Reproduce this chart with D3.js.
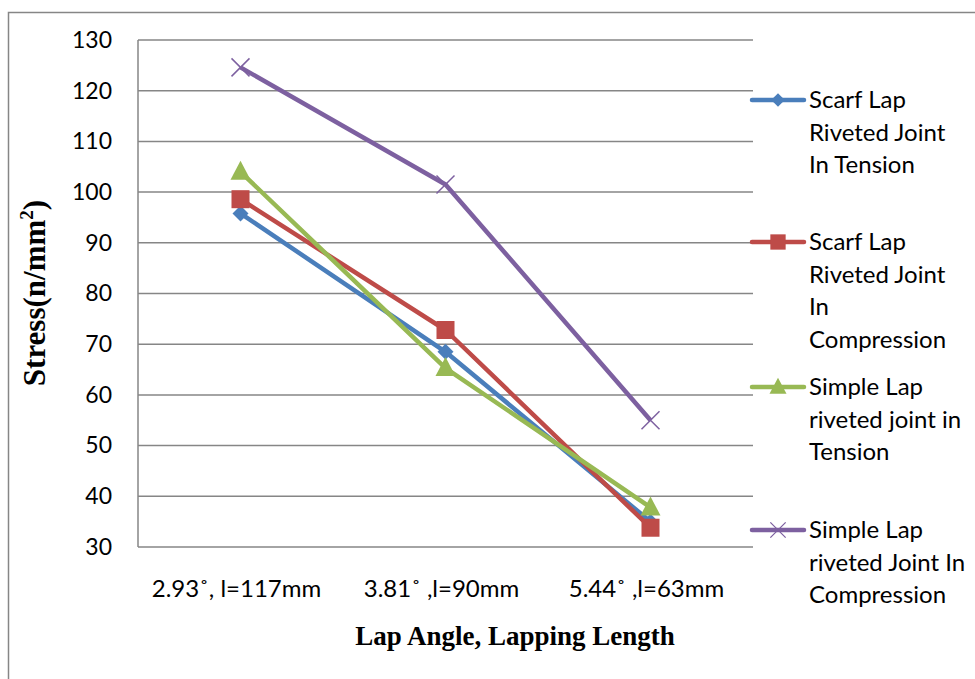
<!DOCTYPE html>
<html>
<head>
<meta charset="utf-8">
<script src="https://cdn.jsdelivr.net/npm/d3@7"></script>
<style>
  body { margin: 0; background: white; }
</style>
</head>
<body>
<script>
const w = 975;
const h = 679;

// chart values
const categories = ["2.93˚, l=117mm", "3.81˚ ,l=90mm", "5.44˚ ,l=63mm"];
const scarfTension = [95.8, 68.5, 35];
const scarfCompression = [98.6, 72.8, 33.8];
const simpleTension = [104, 65.3, 37.8];
const simpleCompression = [124.6, 101.5, 55];
const yTicks = [30, 40, 50, 60, 70, 80, 90, 100, 110, 120, 130];

const seriesNames = [
  ["Scarf Lap", "Riveted Joint", "In Tension"],
  ["Scarf Lap", "Riveted Joint", "In", "Compression"],
  ["Simple Lap", "riveted joint in", "Tension"],
  ["Simple Lap", "riveted Joint In", "Compression"]
];
const colors = ["#4a7ebb", "#be4b48", "#98b954", "#7d60a0"];
const symbols = ["diamond", "square", "triangle", "x"];

const series = [scarfTension, scarfCompression, simpleTension, simpleCompression];

const plotLeft = 138, plotRight = 753, plotTop = 40, plotBottom = 547;
const font = "Lato, 'Open Sans', sans-serif";

const svg = d3.select("body")
  .append("svg")
  .attr("width", w)
  .attr("height", h);

// outer chart frame
svg.append("path")
  .attr("d", "M8.5," + h + "V12.5H" + w)
  .attr("fill", "none")
  .attr("stroke", "#868686")
  .attr("stroke-width", 1.5);

const xScale = d3.scaleBand()
  .domain(categories)
  .range([plotLeft, plotRight]);

const yScale = d3.scaleLinear()
  .domain([30, 130])
  .range([plotBottom, plotTop]);

// gridlines
svg.append("g")
  .selectAll("line")
  .data(yTicks)
  .enter()
  .append("line")
  .attr("x1", plotLeft)
  .attr("x2", plotRight)
  .attr("y1", (d) => yScale(d))
  .attr("y2", (d) => yScale(d))
  .attr("stroke", "#868686")
  .attr("stroke-width", 1.5);

svg.append("line")
  .attr("x1", plotLeft).attr("x2", plotLeft)
  .attr("y1", plotTop).attr("y2", plotBottom)
  .attr("stroke", "#868686")
  .attr("stroke-width", 1.5);

const yAxis = d3.axisLeft(yScale).tickValues(yTicks).tickSize(0).tickPadding(26);
svg.append("g")
  .attr("transform", "translate(" + plotLeft + ",0)")
  .call(yAxis)
  .call((g) => g.select(".domain").remove())
  .selectAll("text")
  .attr("font-family", font)
  .attr("font-size", "23px")
  .attr("fill", "#000");

const xAxis = d3.axisBottom(xScale).tickSize(0).tickPadding(33);
svg.append("g")
  .attr("transform", "translate(0," + plotBottom + ")")
  .call(xAxis)
  .call((g) => g.select(".domain").remove())
  .selectAll("text")
  .attr("font-family", font)
  .attr("font-size", "24px")
  .attr("dx", "-4")
  .attr("fill", "#000");

// axis titles
svg.append("text")
  .attr("x", 515)
  .attr("y", 645)
  .attr("text-anchor", "middle")
  .attr("font-family", "'Liberation Serif', 'DejaVu Serif', serif")
  .attr("font-weight", "bold")
  .attr("font-size", "27px")
  .text("Lap Angle, Lapping Length");

const yTitle = svg.append("text")
  .attr("transform", "translate(45,293) rotate(-90)")
  .attr("text-anchor", "middle")
  .attr("font-family", "'Liberation Serif', 'DejaVu Serif', serif")
  .attr("font-weight", "bold")
  .attr("font-size", "31px");
yTitle.append("tspan").text("Stress(n/mm");
yTitle.append("tspan").attr("font-size", "19px").attr("dy", "-12").text("2");
yTitle.append("tspan").attr("dy", "12").text(")");

const cx = (i) => xScale(categories[i]) + xScale.bandwidth() / 2;

const line = d3.line()
  .x((d, i) => cx(i))
  .y((d) => yScale(d));

function drawMarker(g, type, color) {
  if (type === "diamond") {
    g.append("path").attr("d", "M0,-8L8,0L0,8L-8,0Z").attr("fill", color);
  } else if (type === "square") {
    g.append("rect").attr("x", -9).attr("y", -9).attr("width", 18).attr("height", 18).attr("fill", color);
  } else if (type === "triangle") {
    g.append("path").attr("d", "M0,-11L10,8L-10,8Z").attr("fill", color);
  } else {
    g.append("path").attr("d", "M-9,-9L9,9M-9,9L9,-9").attr("stroke", color).attr("stroke-width", 1.5);
  }
}

series.forEach((vals, s) => {
  svg.append("path")
    .datum(vals)
    .attr("d", line)
    .attr("fill", "none")
    .attr("stroke", colors[s])
    .attr("stroke-width", 4.5)
    .attr("stroke-linejoin", "round");

  vals.forEach((v, i) => {
    const g = svg.append("g").attr("transform", "translate(" + cx(i) + "," + yScale(v) + ")");
    drawMarker(g, symbols[s], colors[s]);
  });
});

// legend
const legendY = [100, 242, 387, 530];
const legend = svg.append("g");
seriesNames.forEach((lines, s) => {
  const y = legendY[s];
  legend.append("line")
    .attr("x1", 752).attr("x2", 804)
    .attr("y1", y).attr("y2", y)
    .attr("stroke", colors[s])
    .attr("stroke-width", 4.5)
    .attr("stroke-linecap", "round");
  const g = legend.append("g").attr("transform", "translate(778," + y + ") scale(0.85)");
  drawMarker(g, symbols[s], colors[s]);
  const t = legend.append("text")
    .attr("x", 809)
    .attr("y", y + 8)
    .attr("font-family", font)
    .attr("font-size", "24px")
    .attr("fill", "#000");
  lines.forEach((l, k) => {
    t.append("tspan").attr("x", 809).attr("dy", k === 0 ? 0 : 32.7).text(l);
  });
});
</script>
</body>
</html>
